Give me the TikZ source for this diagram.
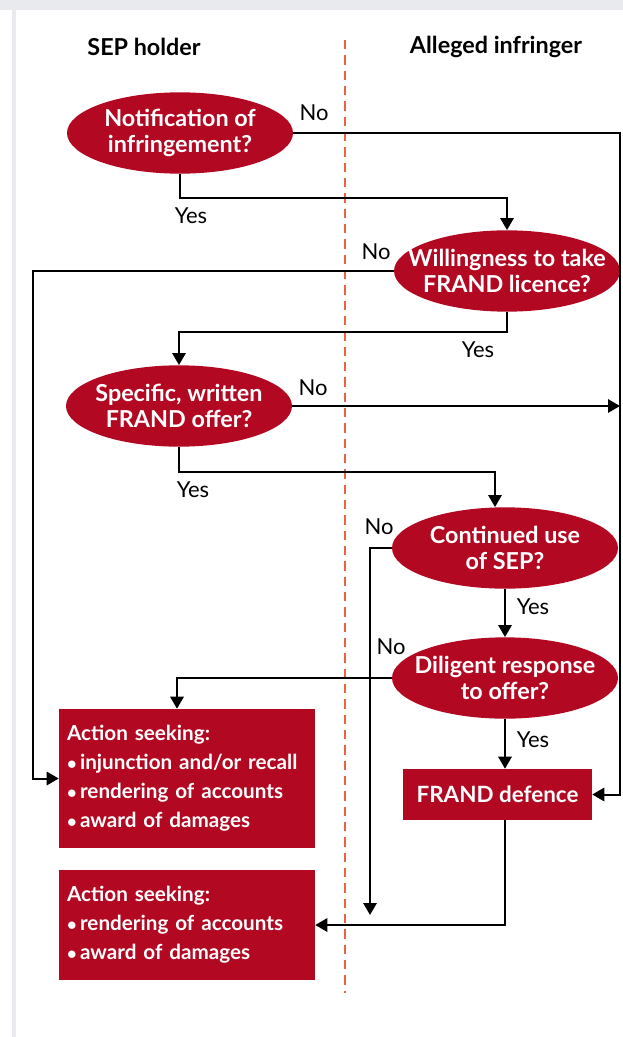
\documentclass[tikz,border=0pt]{standalone}
\usepackage{fontspec}
\setmainfont{Lato}
\usetikzlibrary{positioning,arrows.meta,shapes.geometric}
\definecolor{frandred}{RGB}{178,8,34}
\definecolor{splitline}{RGB}{232,100,60}
\definecolor{framegray}{RGB}{232,234,237}
% pergunta: elipse de tamanho fixo e texto por cima
\newcommand \pergunta[3]{
	\node [pergunta] (#1) at (#2) {};
	\node [textop] (#1-t) at (#1) {#3};}

\begin{document}
\begin{tikzpicture}[x=0.75pt,y=-0.75pt,
	pergunta/.style={draw=none, fill=frandred, ellipse, inner sep=0pt,
		minimum width=169.5pt, minimum height=61pt},
	textop/.style={align=center, inner sep=0pt,
		text=white, font=\fontsize{17.5}{20}\selectfont\bfseries},
	acao/.style={draw=none, fill=frandred, rectangle, inner sep=0pt,
		minimum width=192pt, text width=180pt, align=left,
		text=white, font=\fontsize{15.5}{21.75}\selectfont\bfseries},
	rotulo/.style={font=\fontsize{16.5}{18}\selectfont, inner sep=0pt},
	titulo/.style={font=\fontsize{17.5}{20}\selectfont\bfseries, inner sep=0pt},
	seta/.style={draw, line width=1.5pt,
		-{Triangle[length=9pt, width=10pt]}}]
	% moldura
	\useasboundingbox (0,0) rectangle (623,1037);
	\fill[framegray] (0,0) rectangle (623,10);
	\fill[framegray] (12,0) rectangle (16,1037);
	% colunas
	\node [titulo] (hsep) at (144,47) {SEP holder};
	\node [titulo] (hinf) at (496,47) {Alleged infringer};
	\coordinate (dtop) at (345,40);
	\coordinate (dbot) at (345,993);
	\draw [splitline, line width=1.5pt, dash pattern=on 7pt off 4.5pt] (dtop) -- (dbot);
	% perguntas
	\pergunta{notif}{180,133}{Notification of\\infringement?}
	\pergunta{will}{507,271}{Willingness to take\\FRAND licence?}
	\pergunta{offer}{179,406}{Specific, written\\FRAND offer?}
	\pergunta{cont}{505,548}{Continued use\\of SEP?}
	\pergunta{dilig}{505,678}{Diligent response\\to offer?}
	% resultados
	\node [acao, minimum height=104.25pt] (acaoa) at (187,778.5)
		{Action seeking:\\$\bullet$\,injunction and/or recall\\$\bullet$\,rendering of accounts\\$\bullet$\,award of damages};
	\node [acao, minimum height=82.5pt] (acaob) at (187,925)
		{Action seeking:\\$\bullet$\,rendering of accounts\\$\bullet$\,award of damages};
	\node [acao, minimum width=141.75pt, minimum height=38.25pt, text width=,
		align=center, font=\fontsize{16.8}{19}\selectfont\bfseries] (defesa) at (497.5,794.5) {FRAND defence};
	% pontos auxiliares
	\coordinate (dir) at (620,0);
	\coordinate (esq) at (33,0);
	\coordinate (meio) at (370,915);
	% ligacoes
	\draw [seta] (notif.east) -- (notif.east -| dir) |- (defesa.east);
	\draw [seta] (notif.south) -- ++(0,24) -| (will.north);
	\draw [seta] (will.west) -- (will.west -| esq) |- (acaoa.west);
	\draw [seta] (will.south) -- ++(0,20) -| (offer.north);
	\draw [seta] (offer.east) -- (offer.east -| dir);
	\draw [seta] (offer.south) -- ++(0,25) -| ([xshift=-7.5pt]cont.north);
	\draw [seta] (cont.west) -| (meio);
	\draw [seta] (cont.south) -- (dilig.north);
	\draw [seta] (dilig.west) -| ([xshift=-7.5pt]acaoa.north);
	\draw [seta] (dilig.south) -- (dilig.south |- defesa.north);
	\draw [seta] (dilig.south |- defesa.south) |- (acaob.east);
	% sim / nao
	\node [rotulo] (n1) at (314,113) {No};
	\node [rotulo] (s1) at (191,216) {Yes};
	\node [rotulo] (n2) at (376,252) {No};
	\node [rotulo] (s2) at (478,350) {Yes};
	\node [rotulo] (n3) at (313,388) {No};
	\node [rotulo] (s3) at (193,490) {Yes};
	\node [rotulo] (n4) at (379,527) {No};
	\node [rotulo] (s4) at (533,607) {Yes};
	\node [rotulo] (n5) at (391,647) {No};
	\node [rotulo] (s5) at (533,740) {Yes};
\end{tikzpicture}
\end{document}
